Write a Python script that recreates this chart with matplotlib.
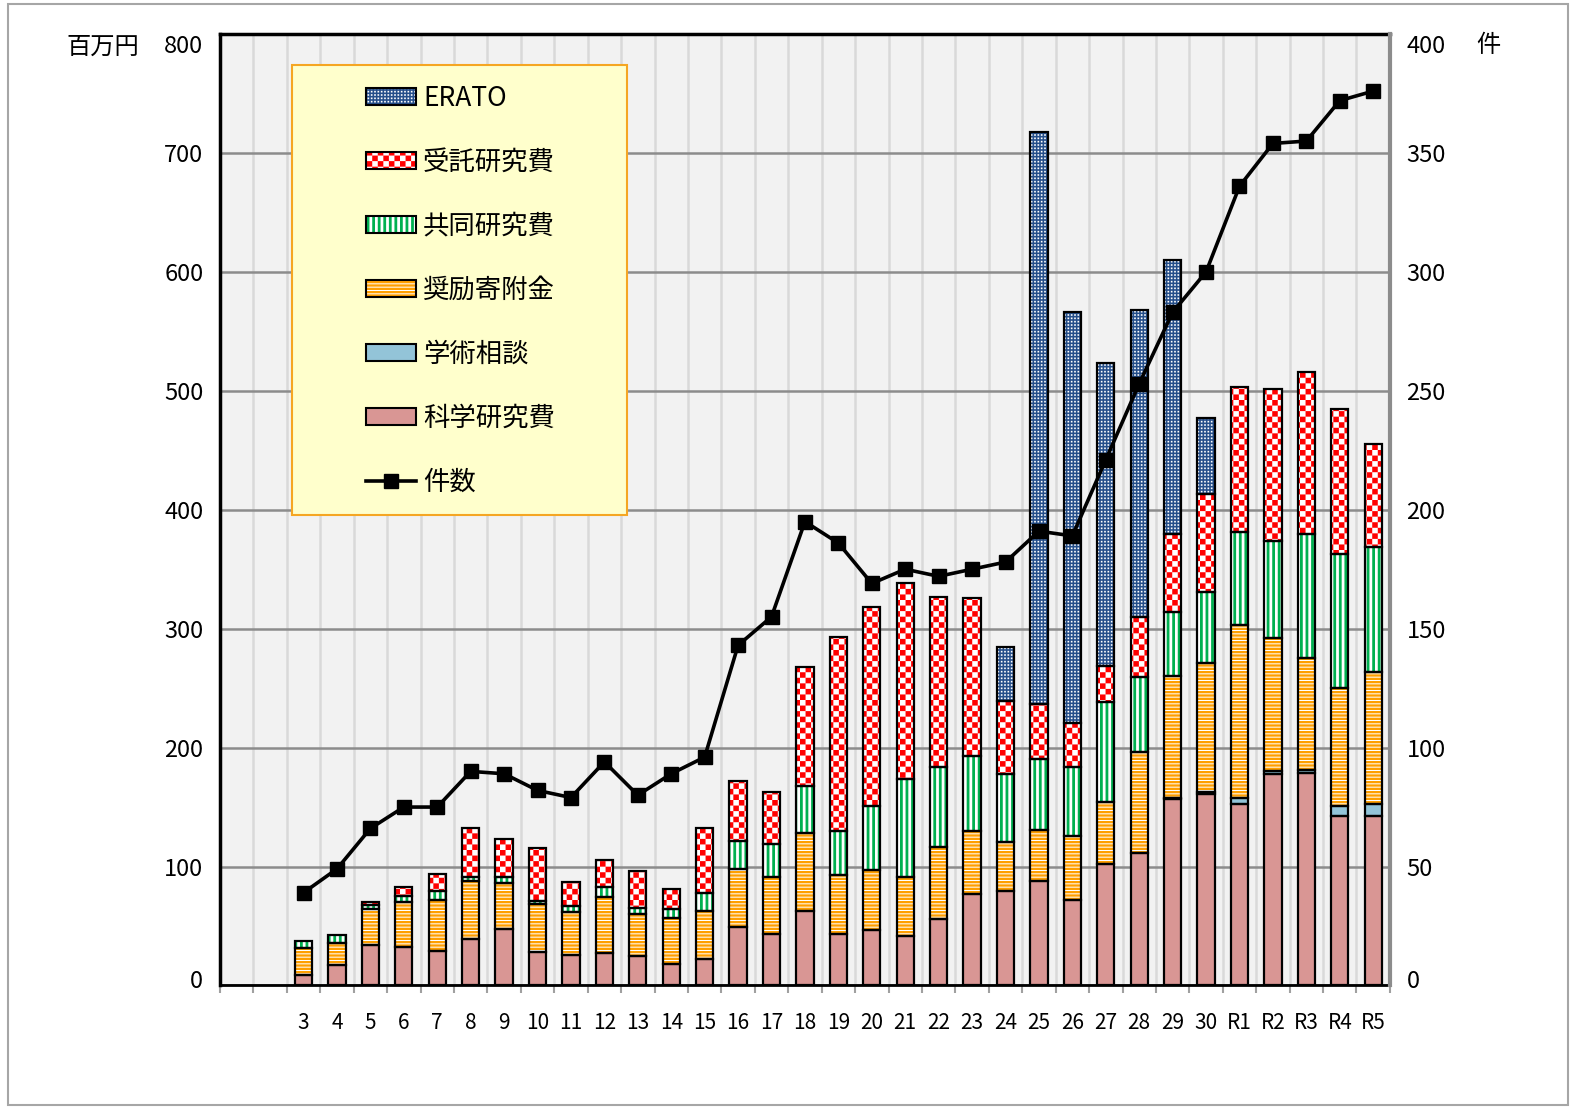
import numpy as np
import matplotlib
matplotlib.use('Agg')
import matplotlib.pyplot as plt
import matplotlib.hatch as mhatch
import matplotlib.transforms as mtransforms
from matplotlib.path import Path
from matplotlib.patches import Patch, Rectangle
from matplotlib.lines import Line2D

# --- data (百万円, 件); two empty leading slots ---
labels = ['', '', '3', '4', '5', '6', '7', '8', '9', '10', '11', '12', '13', '14',
          '15', '16', '17', '18', '19', '20', '21', '22', '23', '24', '25', '26',
          '27', '28', '29', '30', 'R1', 'R2', 'R3', 'R4', 'R5']
kaken = [0, 0, 9, 17, 34, 32.6, 29, 39, 47.5, 28.4, 25.6, 27.5, 24.8, 18, 22, 49.4,
         43.3, 62.6, 43, 46.6, 41.6, 56, 76.6, 79.4, 87.8, 71.8, 101.8, 111, 156.7,
         161, 152.3, 177.5, 178.3, 142.4, 142.7]
gakujutsu = [0, 0, 0, 0, 0, 0, 0, 0, 0, 0, 0, 0, 0, 0, 0, 0, 0, 0, 0, 0, 0, 0, 0, 0,
             0, 0, 0, 0, 1, 1.5, 5.5, 2.5, 2.7, 8.4, 9.6]
shorei = [0, 0, 22.7, 18.3, 30, 37.8, 42.8, 49, 38.9, 39.8, 36.4, 47.1, 35, 38.5, 40.9,
          48.5, 47.6, 65.3, 49.9, 50.4, 49.8, 60.6, 53.4, 40.9, 42.9, 54.1, 52.2, 85,
          102.6, 108.8, 145.1, 112.3, 94, 98.9, 110.9]
kyodo = [0, 0, 5.5, 6.9, 3.6, 4.8, 7.6, 3.6, 5, 2.8, 4.8, 8.4, 5.6, 7.5, 15.1, 23.8, 28,
         40, 36.9, 54, 82.1, 66.7, 63, 57.2, 59.6, 58, 84, 63.5, 53.3, 59.7, 78.4, 81.5,
         105, 113.5, 105.5]
jutaku = [0, 0, 0, 0, 2.8, 7.8, 14, 40.7, 31.7, 44.3, 19.9, 22.5, 31.1, 16.8, 54.6, 50.4,
          44, 100.1, 163.3, 167.3, 165.3, 143.4, 132.4, 61.5, 46.3, 36.9, 31, 49.9, 65.8,
          82.6, 121.9, 128, 135.8, 121.3, 86.3]
erato = [0, 0, 0, 0, 0, 0, 0, 0, 0, 0, 0, 0, 0, 0, 0, 0, 0, 0, 0, 0, 0, 0, 0, 45.2,
         481, 345.5, 254.7, 258.8, 230.8, 63.9, 0, 0, 0, 0, 0]
kensu = [np.nan, np.nan, 39, 49, 66, 75, 75, 90, 89, 82, 79, 94, 80, 89, 96, 143, 155,
         195, 186, 169, 175, 172, 175, 178, 191, 189, 221, 253, 283, 300, 336, 354, 355,
         372, 376]


# filled hatch patterns so that stripes / checks / dots look like the Excel fills
class FilledCells(mhatch.HatchPatternBase):
    char = '?'

    def __init__(self, hatch, density):
        self.n = hatch.count(self.char) * density
        self.rects = self.cells() if self.n else []
        self.num_vertices = len(self.rects) * 5

    def set_vertices_and_codes(self, vertices, codes):
        for i, (x0, y0, x1, y1) in enumerate(self.rects):
            vertices[i * 5:(i + 1) * 5] = [(x0, y0), (x1, y0), (x1, y1), (x0, y1), (x0, y0)]
            codes[i * 5:(i + 1) * 5] = [Path.MOVETO, Path.LINETO, Path.LINETO,
                                         Path.LINETO, Path.CLOSEPOLY]


class HBands(FilledCells):
    char = '-'

    def cells(self):
        n = self.n
        return [(0, k / n, 1, (k + 0.7) / n) for k in range(n)]


class VBands(FilledCells):
    char = '|'

    def cells(self):
        n = self.n
        return [(k / n, 0, (k + 0.5) / n, 1) for k in range(n)]


class Checker(FilledCells):
    char = '*'

    def cells(self):
        n = self.n
        return [(i / n, j / n, (i + 1) / n, (j + 1) / n)
                for i in range(n) for j in range(n) if (i + j) % 2 == 0]


class Dots(FilledCells):
    char = '.'

    def cells(self):
        n = self.n
        s = 0.5
        return [((i + 0.5 - s / 2) / n, (j + 0.5 - s / 2) / n,
                 (i + 0.5 + s / 2) / n, (j + 0.5 + s / 2) / n)
                for i in range(n) for j in range(n)]


mhatch._hatch_types[:] = [HBands, VBands, Checker, Dots]

plt.rcParams['font.family'] = ['Noto Sans CJK JP', 'DejaVu Sans']
plt.rcParams['hatch.linewidth'] = 0.0

fig = plt.figure(figsize=(15.7, 11.08), dpi=100)
ax = fig.add_axes([0.1401, 0.1106, 0.7452, 0.8587])
ax.set_facecolor('#f2f2f2')

x = np.arange(len(labels))
w = 0.52
series = [
    ('科学研究費', kaken, '#d99694', None, None),
    ('学術相談', gakujutsu, '#93c4d8', None, None),
    ('奨励寄附金', shorei, 'white', '#ff9f00', '-----'),
    ('共同研究費', kyodo, 'white', '#00b050', '|||'),
    ('受託研究費', jutaku, 'white', '#ff0000', '***'),
    ('ERATO', erato, '#244e8a', 'white', '.....'),
]

bottom = np.zeros(len(x))
handles = {}
for name, vals, fc, hc, hatch in series:
    v = np.array(vals, dtype=float)
    m = v > 0
    if hatch:
        ax.bar(x[m], v[m], w, bottom=bottom[m], color=fc, edgecolor=hc,
               hatch=hatch, linewidth=0, zorder=2)
        handles[name] = (Patch(facecolor=fc, edgecolor=hc, hatch=hatch, linewidth=0),
                         Patch(facecolor='none', edgecolor='black', linewidth=1.5))
    else:
        ax.bar(x[m], v[m], w, bottom=bottom[m], color=fc, linewidth=0, zorder=2)
        handles[name] = Patch(facecolor=fc, edgecolor='black', linewidth=1.5)
    ax.bar(x[m], v[m], w, bottom=bottom[m], fill=False, edgecolor='black',
           linewidth=1.6, zorder=3)
    bottom += v

ax.set_xlim(-0.5, len(labels) - 0.5)
ax.set_ylim(0, 800)
ax.set_yticks(np.arange(0, 801, 100))
ax.set_xticks(x)
ax.set_xticklabels(labels)
ax.set_xticks(np.arange(-0.5, len(labels), 1), minor=True)
ax.tick_params(axis='x', which='major', length=0, pad=19, labelsize=15)
ax.tick_params(axis='x', which='minor', length=6, width=1.5, color='#a0a0a0')
ax.tick_params(axis='y', length=0, pad=12, labelsize=17)
ax.grid(axis='y', which='major', color='#8c8c8c', linewidth=1.8)
ax.grid(axis='x', which='minor', color='#d9d9d9', linewidth=1.8)
ax.set_axisbelow(True)
for s in ['left', 'top']:
    ax.spines[s].set_linewidth(2.5)
ax.spines['bottom'].set_linewidth(2.0)
ax.spines['right'].set_visible(False)

ax2 = ax.twinx()
ax2.plot(x, kensu, color='black', linewidth=2.6, marker='s', markersize=10, zorder=5)
ax2.set_ylim(0, 400)
ax2.set_yticks(np.arange(0, 401, 50))
ax2.tick_params(axis='y', length=0, pad=12, labelsize=17)
for s in ['left', 'top', 'bottom']:
    ax2.spines[s].set_visible(False)
ax2.spines['right'].set_color('#8c8c8c')
ax2.spines['right'].set_linewidth(3)

# Excel keeps the end labels inside the plot height
for a in (ax, ax2):
    ticks = a.yaxis.get_major_ticks()
    for t, dy in ((ticks[0], 6), (ticks[-1], -10)):
        for lab in (t.label1, t.label2):
            lab.set_transform(lab.get_transform() +
                              mtransforms.ScaledTranslation(0, dy / 100, fig.dpi_scale_trans))

# legend box
ax.add_patch(Rectangle((0.0615, 0.4945), 0.2864, 0.4729, transform=ax.transAxes,
                       facecolor='#ffffcc', edgecolor='#f5a623', linewidth=1.5, zorder=6))
order = ['ERATO', '受託研究費', '共同研究費', '奨励寄附金', '学術相談', '科学研究費']
leg_handles = [handles[k] for k in order]
leg_handles.append(Line2D([], [], color='black', linewidth=2.6, marker='s', markersize=10))
leg = ax.legend(leg_handles, order + ['件数'], loc='upper left',
                bbox_to_anchor=(0.1245, 0.9467), frameon=False, fontsize=19,
                handlelength=1.9, handleheight=0.6, handletextpad=0.27,
                labelspacing=1.4, borderpad=0, borderaxespad=0)
leg.set_zorder(7)

fig.text(0.0656, 0.9576, '百万円', fontsize=17.5, ha='center', va='center')
fig.text(0.9478, 0.9594, '件', fontsize=17.5, ha='center', va='center')
fig.add_artist(Rectangle((0.005, 0.003), 0.994, 0.993, transform=fig.transFigure,
                         fill=False, edgecolor='#a6a6a6', linewidth=1.5))

fig.savefig('out.png', dpi=100)
